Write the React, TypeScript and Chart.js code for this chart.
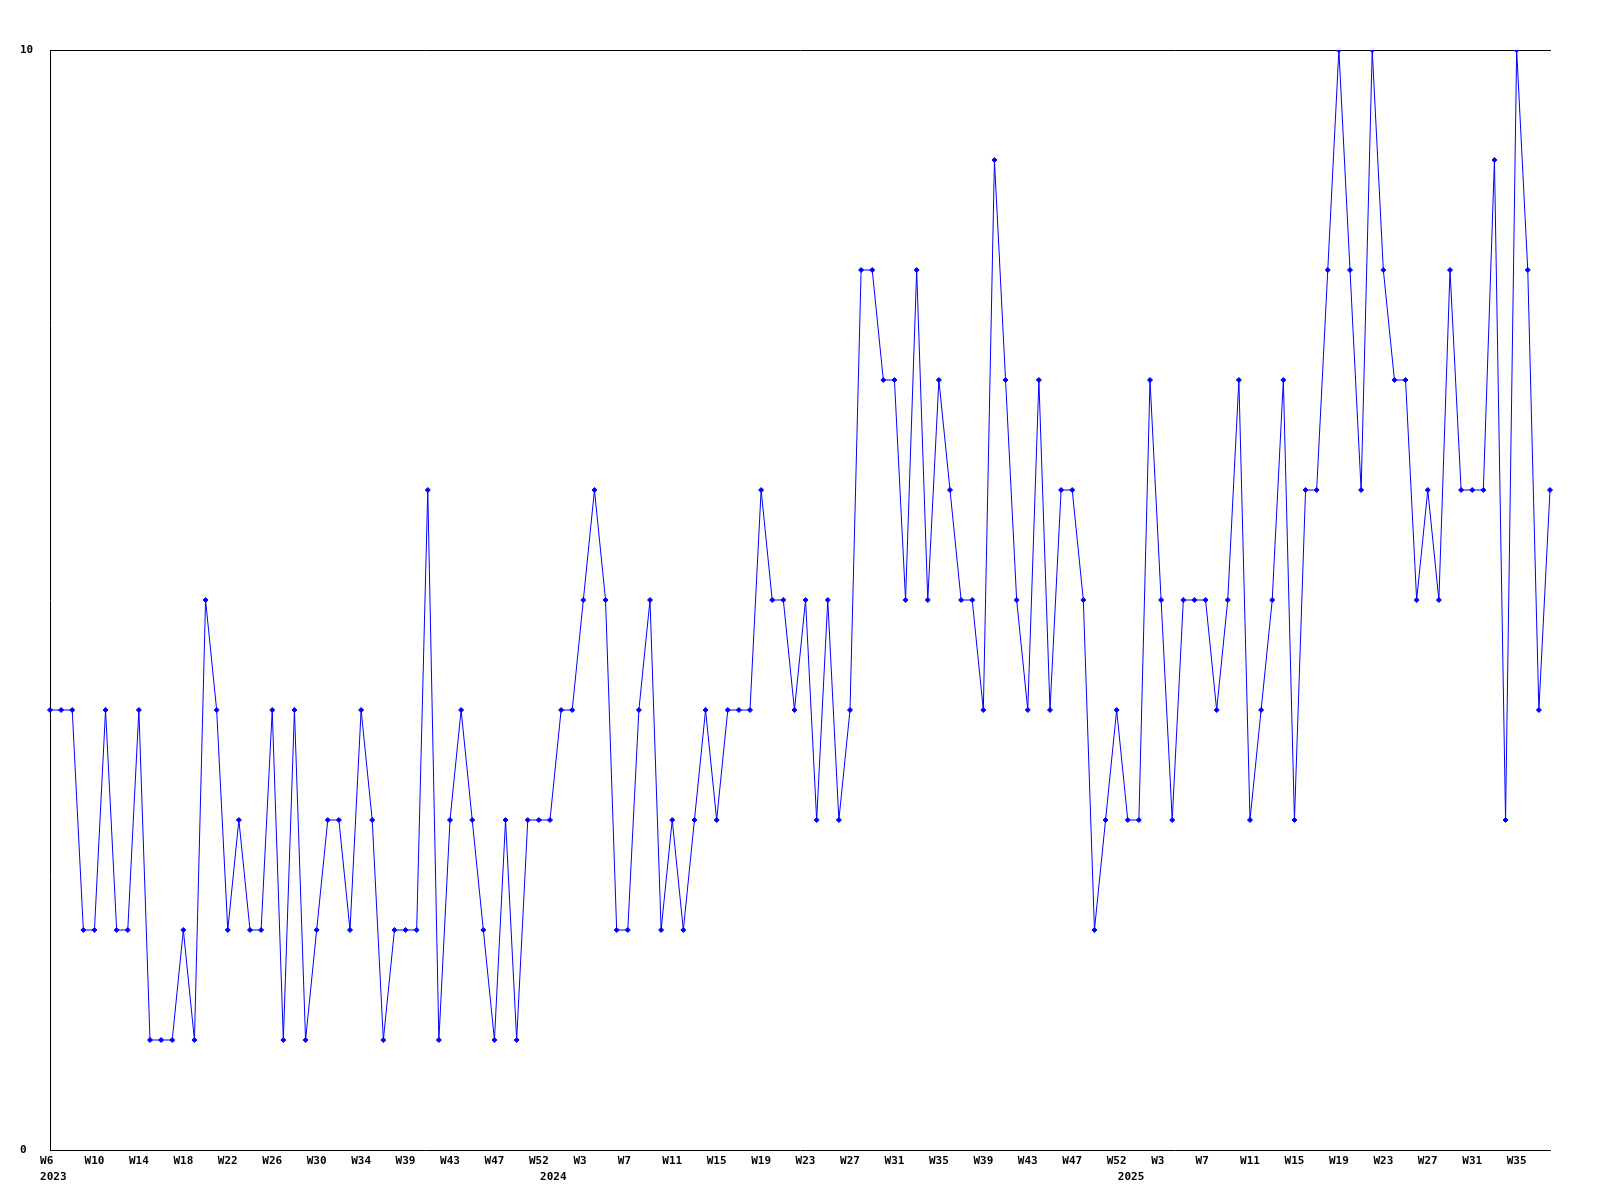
import React, { useEffect, useRef } from "react";
import { Chart, registerables } from "chart.js";

Chart.register(...registerables);

// Week numbers (as shown on the axis) for each plotted point, per year
const weeks2023 = [
  6, 7, 8, 9, 10, 11, 12, 13, 14, 15, 16, 17, 18, 19, 20, 21, 22, 23, 24, 25,
  26, 27, 28, 29, 30, 31, 32, 33, 34, 35, 36, 37, 39, 40, 41, 42, 43, 44, 45,
  46, 47, 48, 49, 51, 52,
];
const weeks2024 = [
  0, 1, 2, 3, 4, 5, 6, 7, 8, 9, 10, 11, 12, 13, 14, 15, 16, 17, 18, 19, 20,
  21, 22, 23, 24, 25, 26, 27, 28, 29, 30, 31, 32, 33, 34, 35, 36, 37, 38, 39,
  40, 41, 42, 43, 44, 45, 46, 47, 48, 49, 51, 52,
];
const weeks2025 = [
  0, 1, 2, 3, 4, 5, 6, 7, 8, 9, 10, 11, 12, 13, 14, 15, 16, 17, 18, 19, 20,
  21, 22, 23, 24, 25, 26, 27, 28, 29, 30, 31, 32, 33, 34, 35, 36, 37, 38,
];

// Weekly values
const values = [
  4, 4, 4, 2, 2, 4, 2, 2, 4, 1, 1, 1, 2, 1, 5, 4, 2, 3, 2, 2, 4, 1, 4, 1, 2, 3, 3, 2, 4,
  3, 1, 2, 2, 2, 6, 1, 3, 4, 3, 2, 1, 3, 1, 3, 3, 3, 4, 4, 5, 6, 5, 2, 2, 4, 5, 2,
  3, 2, 3, 4, 3, 4, 4, 4, 6, 5, 5, 4, 5, 3, 5, 3, 4, 8, 8, 7, 7, 5, 8, 5, 7, 6, 5,
  5, 4, 9, 7, 5, 4, 7, 4, 6, 6, 5, 2, 3, 4, 3, 3, 7, 5, 3, 5, 5, 5, 4, 5, 7, 3, 4,
  5, 7, 3, 6, 6, 8, 10, 8, 6, 10, 8, 7, 7, 5, 6, 5, 8, 6, 6, 6, 9, 3, 10, 8, 4, 6,
];

const yMin = 0;
const yMax = 10;
const labelEvery = 4;

const pointWeeks = [...weeks2023, ...weeks2024, ...weeks2025];
const pointYears = [
  ...weeks2023.map(() => 2023),
  ...weeks2024.map(() => 2024),
  ...weeks2025.map(() => 2025),
];
const categories = pointWeeks.map((w, i) => `${pointYears[i]}-W${w}`);

const tickFont = {
  family: "'DejaVu Sans Mono', 'Liberation Mono', monospace",
  size: 11,
  weight: "bold" as const,
  lineHeight: 16 / 11,
};

export default function App() {
  const canvasRef = useRef<HTMLCanvasElement | null>(null);

  useEffect(() => {
    if (!canvasRef.current) return;
    const chart = new Chart(canvasRef.current, {
      type: "line",
      data: {
        labels: categories,
        datasets: [
          {
            data: values,
            borderColor: "#0000ff",
            borderWidth: 1,
            tension: 0,
            pointStyle: "rectRot",
            pointRadius: 2.5,
            pointBackgroundColor: "#0000ff",
            pointBorderColor: "#0000ff",
            pointBorderWidth: 1,
            fill: false,
          },
        ],
      },
      options: {
        animation: false,
        responsive: false,
        maintainAspectRatio: false,
        layout: { padding: { left: 20, top: 50, right: 50, bottom: 0 } },
        plugins: {
          legend: { display: false },
          tooltip: { enabled: false },
        },
        scales: {
          x: {
            type: "category",
            position: "bottom",
            grid: { display: false, drawTicks: false },
            border: { display: true, color: "#000000", width: 1 },
            ticks: {
              autoSkip: false,
              maxRotation: 0,
              minRotation: 0,
              padding: 3,
              color: "#000000",
              font: tickFont,
              callback: (_value: any, index: number) => {
                const wk =
                  index % labelEvery === 0
                    ? ("W" + pointWeeks[index]).padEnd(3, " ")
                    : "";
                const yearStart =
                  index === 0 || pointYears[index] !== pointYears[index - 1];
                if (yearStart) return [wk, " " + pointYears[index]];
                return wk;
              },
            },
            afterFit: (s: any) => {
              s.height = 50;
            },
          },
          xTop: {
            type: "category",
            position: "top",
            grid: { display: false, drawTicks: false },
            border: { display: true, color: "#000000", width: 1 },
            ticks: { display: false },
            afterFit: (s: any) => {
              s.height = 0;
            },
          },
          y: {
            type: "linear",
            min: yMin,
            max: yMax,
            grid: { display: false, drawTicks: false },
            border: { display: true, color: "#000000", width: 1 },
            ticks: {
              stepSize: yMax - yMin,
              crossAlign: "far",
              padding: 0,
              color: "#000000",
              font: tickFont,
            },
            afterFit: (s: any) => {
              s.width = 30;
            },
          },
        },
      } as any,
    });
    return () => chart.destroy();
  }, []);

  return (
    <div
      style={{
        position: "absolute",
        left: 0,
        top: 0,
        width: 1600,
        height: 1200,
        background: "#ffffff",
      }}
    >
      <canvas
        ref={canvasRef}
        width={1600}
        height={1200}
        style={{ display: "block", width: 1600, height: 1200 }}
      />
    </div>
  );
}
